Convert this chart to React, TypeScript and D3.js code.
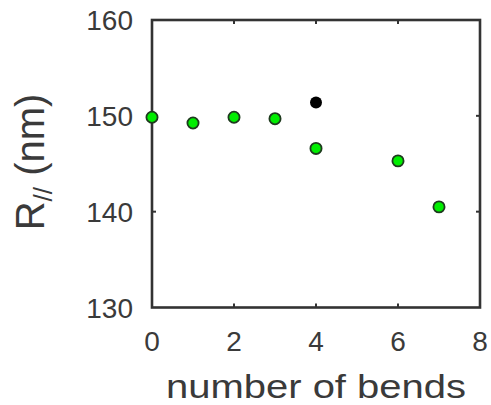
import React from "react";
import * as d3 from "d3";

const bendsGreen = [0, 1, 2, 3, 4, 6, 7];
const radiusGreen = [149.85, 149.25, 149.85, 149.7, 146.6, 145.3, 140.5];
const bendsBlack = [4];
const radiusBlack = [151.4];
const xTicks = [0, 2, 4, 6, 8];
const yTicks = [130, 140, 150, 160];

export default function App() {
  const W = 491, H = 405;
  const left = 152, right = 480, top = 20, bottom = 307.5;
  const x = d3.scaleLinear().domain([0, 8]).range([left, right]);
  const y = d3.scaleLinear().domain([130, 160]).range([bottom, top]);
  const axisColor = "#333";
  const textColor = "#3a3a3a";
  const font = "'Liberation Sans', Arial, Helvetica, sans-serif";
  const tl = 4;
  return (
    <svg width={W} height={H} style={{ position: "absolute", left: 0, top: 0, background: "#fff" }}>
      <rect x={0} y={0} width={W} height={H} fill="#fff" />
      {/* ticks */}
      {xTicks.slice(1, -1).map((t) => (
        <g key={"xt" + t}>
          <line x1={x(t)} x2={x(t)} y1={bottom} y2={bottom - tl} stroke={axisColor} strokeWidth={2} />
          <line x1={x(t)} x2={x(t)} y1={top} y2={top + tl} stroke={axisColor} strokeWidth={2} />
        </g>
      ))}
      {yTicks.slice(1, -1).map((t) => (
        <g key={"yt" + t}>
          <line x1={left} x2={left + tl} y1={y(t)} y2={y(t)} stroke={axisColor} strokeWidth={2} />
          <line x1={right} x2={right - tl} y1={y(t)} y2={y(t)} stroke={axisColor} strokeWidth={2} />
        </g>
      ))}
      <rect x={left} y={top} width={right - left} height={bottom - top} fill="none" stroke={axisColor} strokeWidth={2.6} />
      {/* tick labels */}
      {xTicks.map((t) => (
        <text key={"xl" + t} x={x(t)} y={351} textAnchor="middle" fontFamily={font} fontSize={28} fill={textColor}>
          {t}
        </text>
      ))}
      {yTicks.map((t) => (
        <text key={"yl" + t} x={133} y={y(t) + 10} textAnchor="end" fontFamily={font} fontSize={28} fill={textColor}>
          {t}
        </text>
      ))}
      {/* axis labels */}
      <text x={316} y={398} textAnchor="middle" fontFamily={font} fontSize={34} fill={textColor} textLength={300} lengthAdjust="spacingAndGlyphs">
        number of bends
      </text>
      <text transform={`translate(44,${162}) rotate(-90)`} textAnchor="middle" fontFamily={font} fontSize={40} fill={textColor}>
        R<tspan fontSize={26} dy={8}>//</tspan>
        <tspan dy={-8}> (nm)</tspan>
      </text>
      {/* points */}
      {bendsGreen.map((b, i) => (
        <circle key={"g" + i} cx={x(b)} cy={y(radiusGreen[i])} r={5.6} fill="#00ee00" stroke="#1e3a1e" strokeWidth={1.8} />
      ))}
      {bendsBlack.map((b, i) => (
        <circle key={"k" + i} cx={x(b)} cy={y(radiusBlack[i])} r={6} fill="#000" />
      ))}
    </svg>
  );
}
